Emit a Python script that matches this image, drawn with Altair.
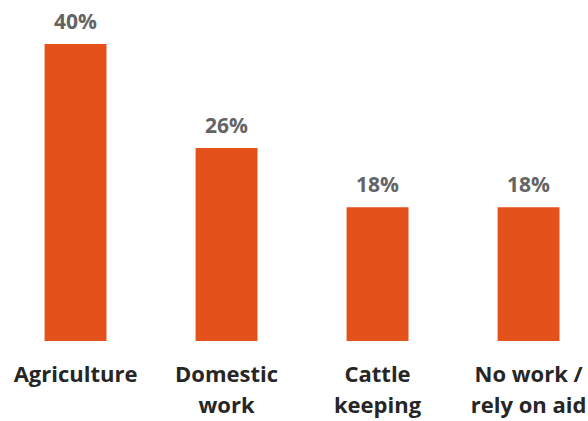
import altair as alt
import pandas as pd

categories = ["Agriculture", "Domestic|work", "Cattle|keeping", "No work /|rely on aid"]
values = [40, 26, 18, 18]
labels = ["40%", "26%", "18%", "18%"]

df = pd.DataFrame({"category": categories, "value": values, "label": labels})

FONT = "Open Sans"

base = alt.Chart(df).encode(
    x=alt.X(
        "category:N",
        sort=categories,
        scale=alt.Scale(paddingInner=0.59, paddingOuter=0.242, align=0.61),
        axis=alt.Axis(
            title=None,
            domain=False,
            ticks=False,
            grid=False,
            labelAngle=0,
            labelExpr="split(datum.value, '|')",
            labelFont=FONT,
            labelFontSize=22,
            labelFontWeight="bold",
            labelColor="#262626",
            labelLineHeight=31,
            labelPadding=23,
            labelBaseline="top",
            labelOverlap=False,
            labelBound=False,
            labelFlush=False,
        ),
    ),
    y=alt.Y("value:Q", scale=alt.Scale(domain=[0, 40]), axis=None),
)

bars = base.mark_bar(color="#E4511B")

text = base.mark_text(
    baseline="alphabetic",
    dy=-15,
    font=FONT,
    fontSize=21,
    fontWeight="bold",
    color="#646464",
).encode(text="label:N")

chart = (
    (bars + text)
    .properties(
        width=588,
        height=297,
        autosize="none",
        padding={"left": 0, "top": 44, "right": 0, "bottom": 80},
        background="white",
    )
    .configure_view(stroke=None)
)

chart.save("out.html", embed_options={"renderer": "svg", "actions": False})
